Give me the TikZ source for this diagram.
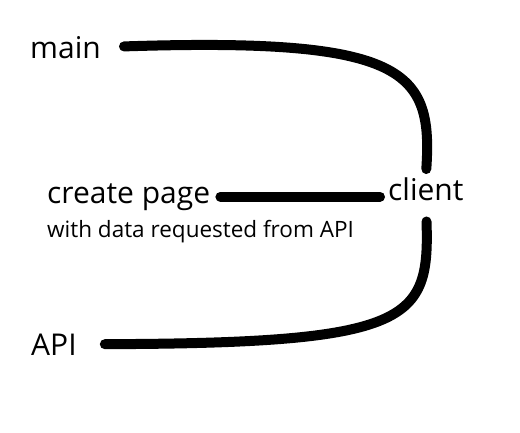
\documentclass[tikz,border=0pt]{standalone}
\usepackage{fontspec}
\setmainfont{Open Sans}
\tikzset{
  lbl/.style={inner sep=1pt, anchor=base west, font=\fontsize{30}{34}\selectfont},
  small/.style={inner sep=1pt, anchor=base west, font=\fontsize{22.5}{26}\selectfont},
  wire/.style={line width=10pt, line cap=round}
}
\begin{document}
\begin{tikzpicture}[x=1pt,y=-1pt]
	\useasboundingbox (0,0) rectangle (520,432);
	\node[lbl] (M) at (29,58) {main};
	\node[lbl] (P) at (46,203) {create page};
	\node[small] (S) at (46,237) {with data requested from API};
	\node[lbl] (C) at (387,200) {client};
	\node[lbl] (A) at (30,355) {API};

	\draw[wire, shorten <=22pt, shorten >=7pt] (M.east) .. controls +(305,-10) and +(7,-105) .. (C.north);
	\draw[wire, shorten <=9pt, shorten >=7pt] (P.east) -- (P.east -| C.west);
	\draw[wire, shorten <=20pt, shorten >=27pt] (C.south) .. controls +(4,120) and +(333,-1) .. (A.east);
\end{tikzpicture}
\end{document}
